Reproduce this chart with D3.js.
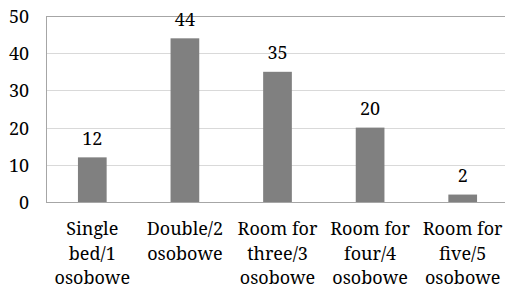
<!DOCTYPE html>
<html>
<head>
<meta charset="utf-8">
<script src="https://cdn.jsdelivr.net/npm/d3@7"></script>
<style>
  body { margin: 0; background: #fff; }
</style>
</head>
<body>
<div id="chart"></div>
<script>
var categories = [
    ["Single", "bed/1", "osobowe"],
    ["Double/2", "osobowe"],
    ["Room for", "three/3", "osobowe"],
    ["Room for", "four/4", "osobowe"],
    ["Room for", "five/5", "osobowe"]
];
var values = [12, 44, 35, 20, 2];
var yTicks = [0, 10, 20, 30, 40, 50];

var width = 505, height = 289;
var plotLeft = 46, plotRight = 509, plotTop = 16, plotBottom = 202;
var serif = "'Noto Serif', 'Liberation Serif', serif";
var fs = 18;

var svg = d3.select("#chart").append("svg")
    .attr("width", width)
    .attr("height", height)
    .attr("font-family", serif);

var x = d3.scaleBand()
    .domain(d3.range(values.length))
    .range([plotLeft, plotRight])
    .paddingInner(0.69)
    .paddingOuter(0.345);

var y = d3.scaleLinear()
    .domain([0, 50])
    .range([plotBottom, plotTop]);

// gridlines
svg.selectAll(".grid")
    .data(yTicks.slice(1, -1))
    .enter().append("line")
    .attr("x1", plotLeft).attr("x2", plotRight)
    .attr("y1", function(d) { return Math.round(y(d)) + 0.5; })
    .attr("y2", function(d) { return Math.round(y(d)) + 0.5; })
    .attr("stroke", "#d9d9d9")
    .attr("stroke-width", 1);

// plot border
svg.append("rect")
    .attr("x", plotLeft + 0.5).attr("y", plotTop + 0.5)
    .attr("width", plotRight - plotLeft).attr("height", plotBottom - plotTop)
    .attr("fill", "none")
    .attr("stroke", "#a6a6a6")
    .attr("stroke-width", 1);

// y axis labels
var yAxis = d3.axisLeft(y).tickValues(yTicks).tickSize(0).tickPadding(17);
var gy = svg.append("g").attr("transform", "translate(" + plotLeft + ",0)").call(yAxis);
gy.attr("font-family", serif).attr("font-size", fs);
gy.select(".domain").remove();
gy.selectAll("text").attr("fill", "#000").attr("dy", "0.36em");

// bars
svg.selectAll(".bar")
    .data(values)
    .enter().append("rect")
    .attr("x", function(d, i) { return x(i); })
    .attr("y", function(d) { return y(d); })
    .attr("width", x.bandwidth())
    .attr("height", function(d) { return y(0) - y(d); })
    .attr("fill", "#808080");

// value labels
svg.selectAll(".val")
    .data(values)
    .enter().append("text")
    .attr("x", function(d, i) { return x(i) + x.bandwidth() / 2; })
    .attr("y", function(d) { return y(d) - 12.5; })
    .attr("text-anchor", "middle")
    .attr("font-size", fs)
    .text(function(d) { return d; });

// category labels
var cat = svg.selectAll(".cat")
    .data(categories)
    .enter().append("text")
    .attr("text-anchor", "middle")
    .attr("font-size", fs);
cat.each(function(lines, i) {
    var t = d3.select(this);
    lines.forEach(function(line, j) {
        t.append("tspan")
            .attr("x", x(i) + x.bandwidth() / 2)
            .attr("y", 235 + j * 24.5)
            .text(line);
    });
});
</script>
</body>
</html>
